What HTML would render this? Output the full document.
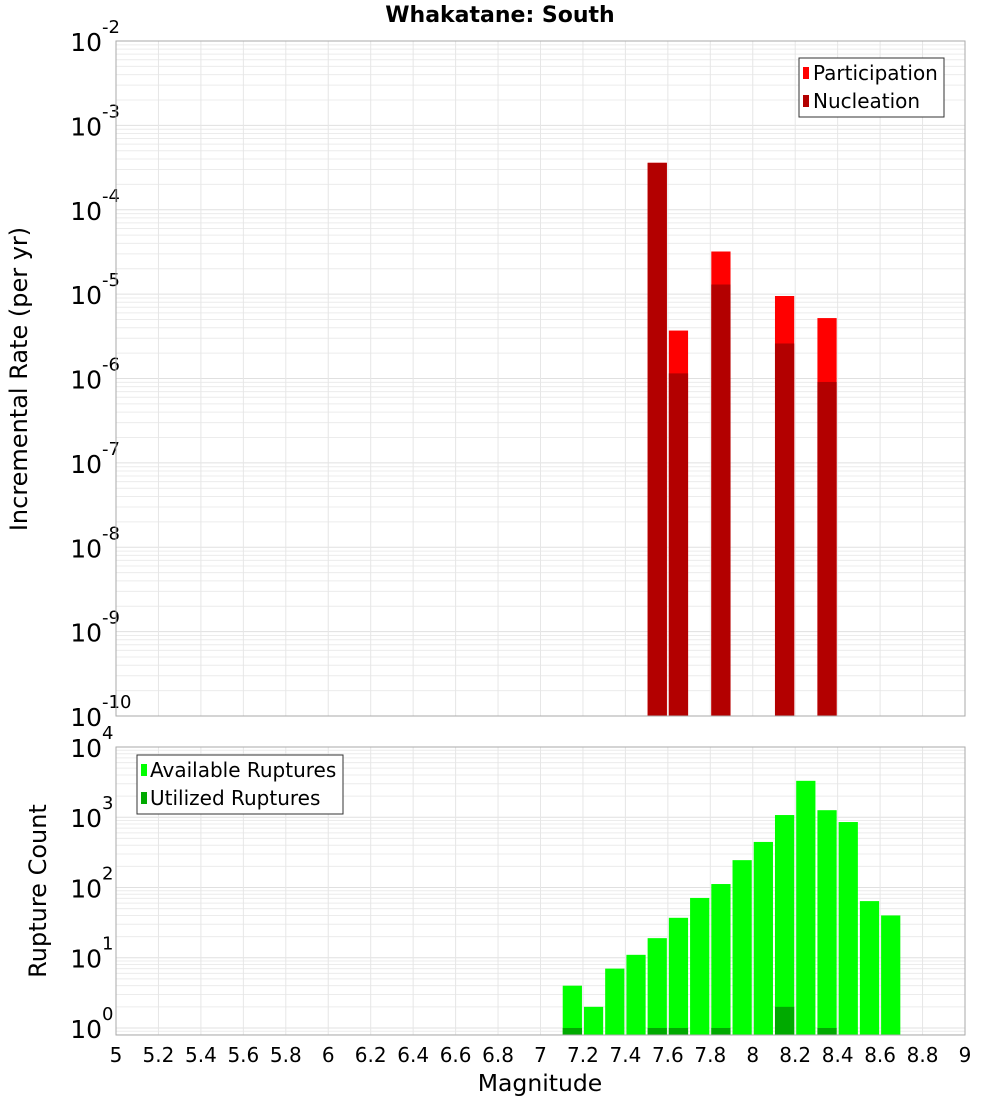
<!DOCTYPE html>
<html><head><meta charset="utf-8"><style>
body{margin:0;background:#fff;font-family:"Liberation Sans","DejaVu Sans",sans-serif}
svg text{font-family:"DejaVu Sans","Liberation Sans",sans-serif}
</style></head><body>
<svg id="c" width="1000" height="1100" xmlns="http://www.w3.org/2000/svg">
<text x="500" y="22" text-anchor="middle" font-size="22" font-weight="bold">Whakatane: South</text>
<g id="top"></g>
<g id="bot"></g>
<text x="540" y="1091" text-anchor="middle" font-size="23.5">Magnitude</text>
<text transform="translate(27,379) rotate(-90)" text-anchor="middle" font-size="24">Incremental Rate (per yr)</text>
<text transform="translate(46,891) rotate(-90)" text-anchor="middle" font-size="24">Rupture Count</text>
<g>
<rect x="799" y="58" width="145" height="59" fill="#fff" stroke="#333"/>
<rect x="803" y="67" width="6" height="12" fill="#ff0000"/>
<text x="813" y="80" font-size="20">Participation</text>
<rect x="803" y="95" width="6" height="12" fill="#b30000"/>
<text x="813" y="108" font-size="20">Nucleation</text>
</g>
<g>
<rect x="137" y="755" width="206" height="59" fill="#fff" stroke="#333"/>
<rect x="141" y="764" width="6" height="12" fill="#00ff00"/>
<text x="150" y="777" font-size="20">Available Ruptures</text>
<rect x="141" y="792" width="6" height="12" fill="#00aa00"/>
<text x="150" y="805" font-size="20">Utilized Ruptures</text>
</g>
</svg>
<script>
const rateMags=[7.55,7.65,7.85,8.15,8.35];
const participation=[3.6e-4,3.7e-6,3.2e-5,9.5e-6,5.2e-6];
const nucleation=[3.6e-4,1.15e-6,1.3e-5,2.6e-6,9.1e-7];
const countMags=[7.15,7.25,7.35,7.45,7.55,7.65,7.75,7.85,7.95,8.05,8.15,8.25,8.35,8.45,8.55,8.65];
const available=[4,2,7,11,19,37,71,112,245,445,1075,3300,1260,855,64,40];
const utilizedMags=[7.15,7.55,7.65,7.85,8.15,8.35];
const utilized=[1,1,1,1,2,1];
const xTicks=[5,5.2,5.4,5.6,5.8,6,6.2,6.4,6.6,6.8,7,7.2,7.4,7.6,7.8,8,8.2,8.4,8.6,8.8,9];
const topDecades=[-10,-9,-8,-7,-6,-5,-4,-3,-2];
const botDecades=[0,1,2,3,4];

const NS="http://www.w3.org/2000/svg";
const X0=116,X1=965;
const xs=m=>X0+(m-5)/4*(X1-X0);
function el(p,t,a){const e=document.createElementNS(NS,t);for(const k in a)e.setAttribute(k,a[k]);p.appendChild(e);return e;}
function panel(g,top,bottom,lmin,lmax,decades,name){
  const ys=v=>bottom-(Math.log10(v)-lmin)/(lmax-lmin)*(bottom-top);
  for(let d=Math.floor(lmin);d<lmax;d++)for(let k=1;k<10;k++){
    const v=k*Math.pow(10,d);const y=ys(v);if(y<top||y>bottom)continue;
    const l=el(g,'line',{x1:X0,x2:X1,y1:y,y2:y,stroke:k==1?'#e0e0e0':'#ececec','stroke-width':1});
    
    
  }
  xTicks.forEach(t=>{const l=el(g,'line',{x1:xs(t),x2:xs(t),y1:top,y2:bottom,stroke:'#e6e6e6'});
    
    });
  decades.forEach(d=>{const y=ys(Math.pow(10,d));
    const t=el(g,'text',{x:102,y:y+10,'text-anchor':'end','font-size':25});t.textContent='10';
    
    
    const s=el(g,'text',{x:102,y:y-8,'font-size':18});s.textContent=String(d);
    
    });
  return ys;
}
function bars(g,ys,bottom,mags,vals,color,name){
  mags.forEach((m,i)=>{const x=xs(m-0.05)+1,w=xs(m+0.05)-xs(m-0.05)-2;const y=ys(vals[i]);
    const r=el(g,'rect',{x:x,y:y,width:w,height:bottom-y,fill:color});
    
    });
}
const gt=document.getElementById('top'),gb=document.getElementById('bot');
const yt=panel(gt,41,716,-10,-2,topDecades,'rate');
bars(gt,yt,716,rateMags,participation,'#ff0000','participation-bar');
bars(gt,yt,716,rateMags,nucleation,'#b30000','nucleation-bar');
el(gt,'rect',{x:X0,y:41,width:X1-X0,height:675,fill:'none',stroke:'#aaa'});
const yb=panel(gb,747,1035,-0.1,4,botDecades,'count');
bars(gb,yb,1035,countMags,available,'#00ff00','available-bar');
bars(gb,yb,1035,utilizedMags,utilized,'#00aa00','utilized-bar');
el(gb,'rect',{x:X0,y:747,width:X1-X0,height:288,fill:'none',stroke:'#aaa'});
xTicks.forEach(t=>{const e=el(gb,'text',{x:xs(t),y:1062,'text-anchor':'middle','font-size':20});
  e.textContent=String(t);
  
  });
</script>
</body></html>
